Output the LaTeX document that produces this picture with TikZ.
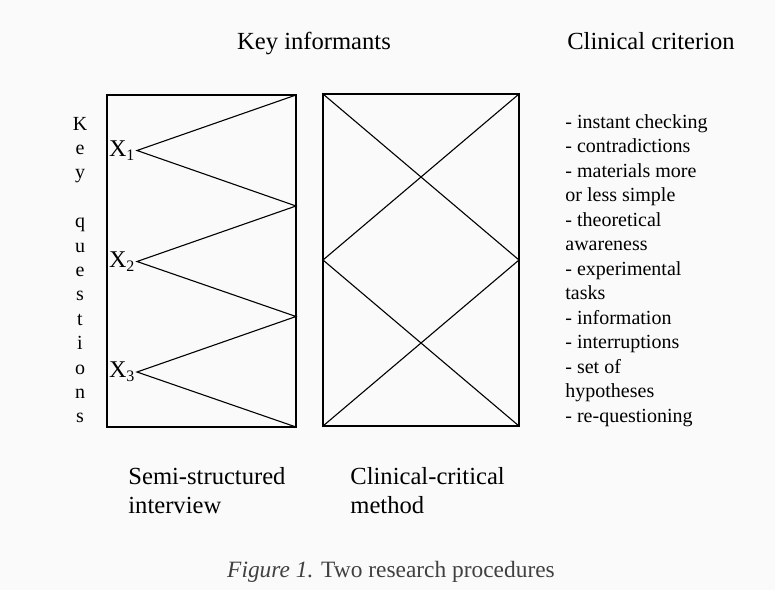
\documentclass[tikz,border=0pt]{standalone}
\usepackage{fontspec}
\setmainfont{Liberation Serif}
\begin{document}
\begin{tikzpicture}[x=0.5pt,y=-0.5pt,
  frame/.style={draw, line width=1.1pt},
  link/.style={line width=0.55pt},
  head/.style={font=\fontsize{12.3}{15}\selectfont, anchor=base, inner sep=0pt},
  label/.style={font=\fontsize{12.3}{15}\selectfont, anchor=base west, inner sep=0pt},
  letter/.style={font=\fontsize{10}{12}\selectfont, anchor=base, inner sep=0pt},
  item/.style={font=\fontsize{10}{12}\selectfont, anchor=base west, inner sep=0pt},
  xlab/.style={font=\fontsize{12}{14}\selectfont, anchor=east, inner sep=0.6pt}]
\useasboundingbox (0,0) rectangle (775,590);
\fill[gray!4] (0,0) rectangle (775,590);

% headings
\node[head] (hinf) at (314,49) {Key informants};
\node[head] (hcrit) at (651,49) {Clinical criterion};

% vertical "Key questions"
\foreach \ch [count=\i from 0] in {K,e,y,{},q,u,e,s,t,i,o,n,s}
  \node[letter] (kq\i) at (80,{130+24.4*\i}) {\ch};

% semi-structured interview frame
\coordinate (s-nw) at (107,95);
\coordinate (s-se) at (296,427);
\draw[frame] (s-nw) rectangle (s-se);
\coordinate (r0) at (296,95);
\coordinate (r1) at (296,206);
\coordinate (r2) at (296,316.5);
\coordinate (r3) at (296,427);
\node[xlab] (x1) at (137,150.5) {X\textsubscript{1}};
\node[xlab] (x2) at (137,261.5) {X\textsubscript{2}};
\node[xlab] (x3) at (137,372) {X\textsubscript{3}};
\draw[link] (r0) -- (x1.east) -- (r1) -- (x2.east) -- (r2) -- (x3.east) -- (r3);

% clinical-critical frame
\coordinate (c-nw) at (323,94);
\coordinate (c-ne) at (519,94);
\coordinate (c-sw) at (323,426);
\coordinate (c-se) at (519,426);
\coordinate (c-w) at (323,260);
\coordinate (c-e) at (519,260);
\draw[frame] (c-nw) rectangle (c-se);
\draw[link] (c-nw) -- (c-e) -- (c-sw);
\draw[link] (c-ne) -- (c-w) -- (c-se);

% criterion list
\foreach \txt [count=\i from 0] in {- instant checking,- contradictions,- materials more,
    or less simple,- theoretical,awareness,- experimental,tasks,- information,
    - interruptions,- set of,hypotheses,- re-questioning}
  \node[item] (it\i) at (565,{128+24.5*\i}) {\txt};

% captions under the frames
\node[label] (semi1) at (128,484) {Semi-structured};
\node[label] (semi2) at (128,513) {interview};
\node[label] (clin1) at (350,484) {Clinical-critical};
\node[label] (clin2) at (350,513) {method};

% figure caption
\node[head, font=\fontsize{11.7}{14}\selectfont, text=black!75] (fig) at (391,577)
  {\textit{Figure 1.} Two research procedures};
\end{tikzpicture}
\end{document}
